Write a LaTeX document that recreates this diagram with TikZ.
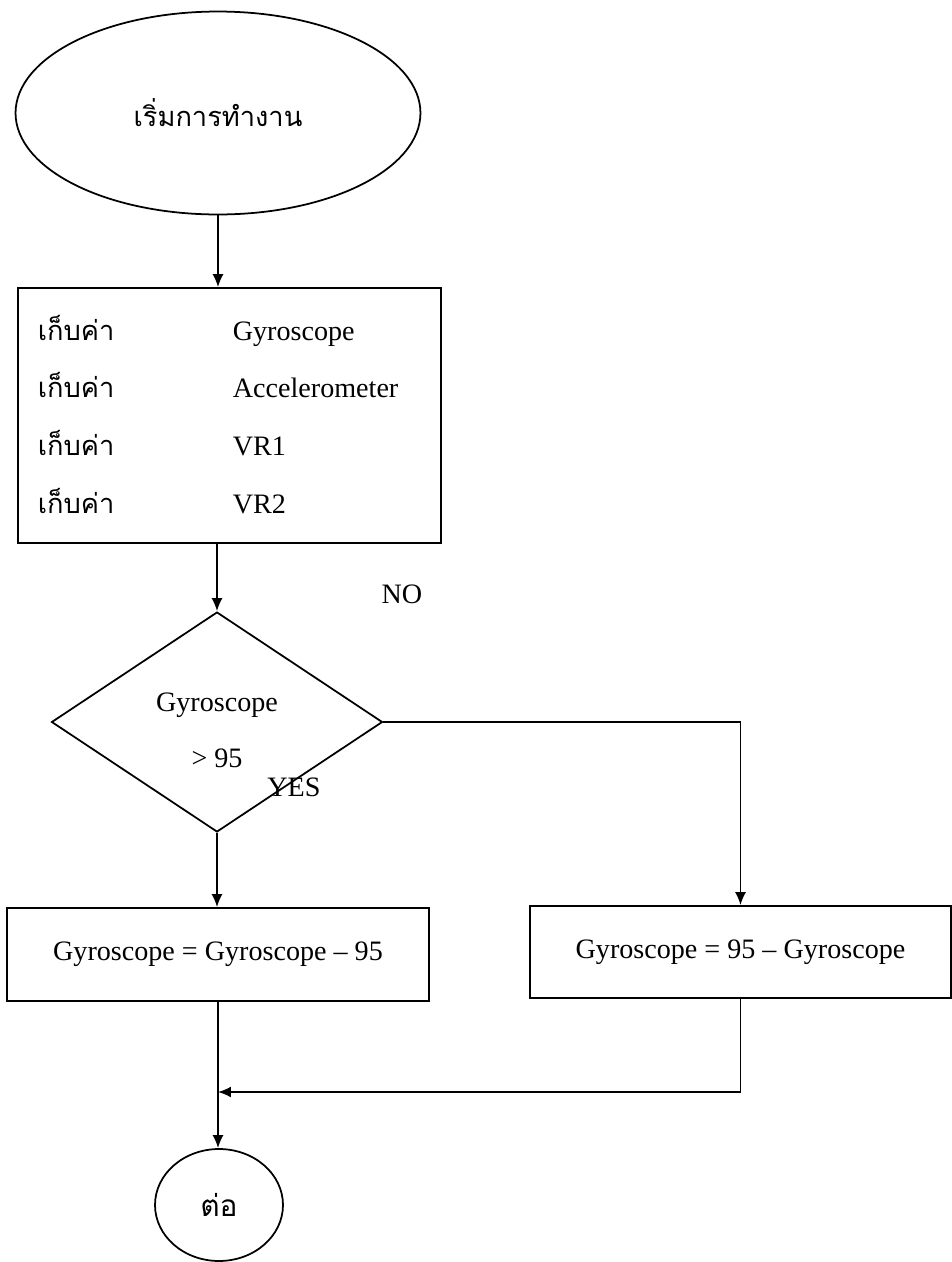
\documentclass[tikz,border=0pt]{standalone}
\usepackage{fontspec}
\setmainfont{Liberation Serif}
\newfontfamily\thaifont[Script=Thai]{Loma}
\usetikzlibrary{shapes.geometric,arrows.meta}
\begin{document}
\begin{tikzpicture}[x=0.02cm,y=-0.02cm,line width=1pt,
    >={Latex[length=2.6mm,width=2.2mm]},
    every node/.style={font=\fontsize{16}{19}\selectfont},
    oval/.style={draw,ellipse,inner sep=0pt},
    box/.style={draw,rectangle,inner sep=0pt},
    test/.style={draw,diamond,inner sep=0pt,align=center},
    thai/.style={font=\fontsize{15.5}{19}\selectfont\thaifont}]
  \useasboundingbox (0,0) rectangle (952,1262);

  \node[oval,thai,minimum width=8.1cm,minimum height=4.06cm] (start) at (218,113) {เริ่มการทำงาน};
  \node[box,minimum width=8.46cm,minimum height=5.1cm] (read) at (229.5,415.5) {};
  \foreach \name/\y [count=\i] in {Gyroscope/340,Accelerometer/397,VR1/455,VR2/513}{
    \node[thai,anchor=base west,inner sep=0pt] (keep\i) at (37,\y) {เก็บค่า};
    \node[anchor=base west,inner sep=0pt] (item\i) at (232,\y) {\name};
  }
  \node[test,minimum width=6.62cm,minimum height=4.4cm] (check) at (217,722)
    {\raisebox{-0.22cm}[\height][\depth]{\begin{tabular}{@{}c@{}}Gyroscope\\[13pt]> 95\end{tabular}}};
  \node[box,minimum width=8.44cm,minimum height=1.86cm] (minus) at (218,954.5) {Gyroscope = Gyroscope – 95};
  \node[box,minimum width=8.42cm,minimum height=1.84cm] (flip) at (740.5,952) {Gyroscope = 95 – Gyroscope};
  \node[oval,minimum width=2.56cm,minimum height=2.24cm,font=\fontsize{17}{20}\selectfont\thaifont] (next) at (219,1205) {ต่อ};
  \coordinate (join) at (218,1092);

  \node (no) at (402,594) {NO};
  \node (yes) at (294,787) {YES};

  \draw[->] (start.south) -- (start.south |- read.north);
  \draw[->] (check.north |- read.south) -- (check.north);
  \draw[->] (check.east) -| (flip.north);
  \draw[->] (check.south) -- (check.south |- minus.north);
  \draw[->] (minus.south) -- (minus.south |- next.north);
  \draw[->] (flip.south) |- (join);
\end{tikzpicture}
\end{document}
